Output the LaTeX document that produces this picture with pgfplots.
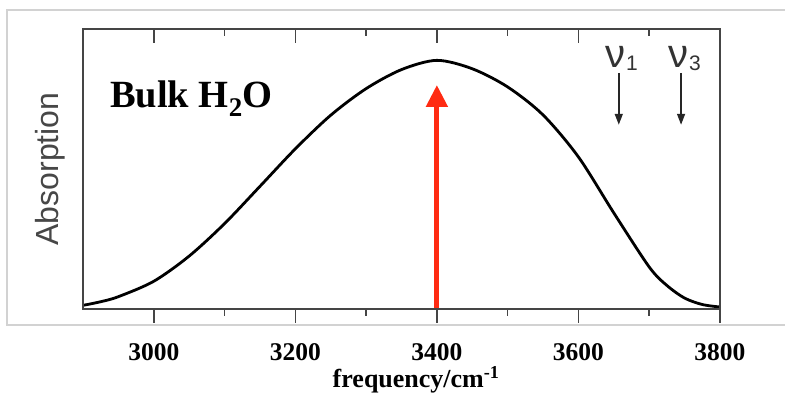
\documentclass[border=0pt]{standalone}
\usepackage{pgfplots}
\pgfplotsset{compat=1.18}
\usepackage{fontspec}
\setmainfont{Liberation Serif}
\setsansfont{Liberation Sans}
\usetikzlibrary{arrows.meta}
\definecolor{arrred}{HTML}{FF2B12}
\definecolor{framegray}{HTML}{D2D2D2}
\definecolor{axisgray}{HTML}{454545}

\pgfplotstableread{
x y
2900 0.013
2925 0.026
2950 0.044
3000 0.099
3050 0.189
3100 0.305
3150 0.438
3200 0.572
3250 0.692
3300 0.787
3350 0.855
3400 0.888
3450 0.858
3500 0.793
3550 0.693
3600 0.543
3650 0.343
3700 0.150
3725 0.084
3750 0.039
3775 0.016
3800 0.007
}\water

\begin{document}
\begin{tikzpicture}
\useasboundingbox (0pt,0pt) rectangle (785pt,395pt);
\draw[framegray, line width=1.2pt] (785pt,385pt) -- (7pt,385pt) -- (7pt,70pt) -- (785pt,70pt);
\begin{axis}[
  at={(83pt,86pt)}, anchor=south west,
  scale only axis, width=637pt, height=280pt,
  xmin=2900, xmax=3800, ymin=0, ymax=1,
  ytick=\empty,
  xtick={3000,3200,3400,3600,3800},
  xticklabels={3000,3200,3400,3600,3800},
  minor xtick={3100,3300,3500,3700},
  xtick pos=left, tick align=outside,
  major tick length=14pt, minor tick length=7pt,
  every tick/.style={axisgray, line width=1.6pt},
  axis line style={axisgray, line width=2pt},
  xticklabel style={font=\fontsize{25.5}{25.5}\selectfont\bfseries, yshift=-17pt},
  xlabel={frequency/cm\textsuperscript{-1}},
  xlabel style={font=\fontsize{26}{26}\selectfont\bfseries, at={(axis description cs:0.523,-0.282)}, anchor=base},
  ylabel={Absorption},
  ylabel style={font=\fontsize{32}{32}\selectfont\sffamily, text=black!72, at={(axis description cs:-0.052,0.5)}, anchor=center},
  clip=false,
]
\addplot[black, line width=2.8pt, smooth] table[x=x,y=y] {\water};
\addplot[arrred, line width=5pt, -{Triangle[length=22pt,width=21pt]}] coordinates {(3400,0) (3400,0.80)};
\addplot[black!85, line width=1.6pt, -{Triangle[length=11pt,width=8pt]}] coordinates {(3657,0.843) (3657,0.658)};
\addplot[black!85, line width=1.6pt, -{Triangle[length=11pt,width=8pt]}] coordinates {(3745,0.843) (3745,0.658)};
\node[anchor=base west, inner sep=0pt, text=black!80, font=\sffamily] at (axis cs:3637.5,0.861) {\fontsize{40}{40}\selectfont ν\kern1pt\raisebox{-3pt}{\fontsize{21}{21}\selectfont 1}};
\node[anchor=base west, inner sep=0pt, text=black!80, font=\sffamily] at (axis cs:3726.5,0.861) {\fontsize{40}{40}\selectfont ν\kern1pt\raisebox{-3pt}{\fontsize{21}{21}\selectfont 3}};
\node[anchor=base west, font=\fontsize{38.5}{38.5}\selectfont\bfseries, inner sep=0pt] at (axis cs:2938,0.721) {Bulk H\textsubscript{2}O};
\end{axis}
\begin{axis}[
  at={(83pt,86pt)}, anchor=south west,
  scale only axis, width=637pt, height=280pt,
  xmin=2900, xmax=3800, ymin=0, ymax=1,
  ytick=\empty,
  xtick={3000,3200,3400,3600,3800},
  xticklabels={},
  minor xtick={3100,3300,3500,3700},
  xtick pos=right, tick align=inside,
  major tick length=14pt, minor tick length=7pt,
  every tick/.style={axisgray, line width=1.6pt},
  axis line style={axisgray, line width=2pt},
]
\end{axis}
\end{tikzpicture}
\end{document}
